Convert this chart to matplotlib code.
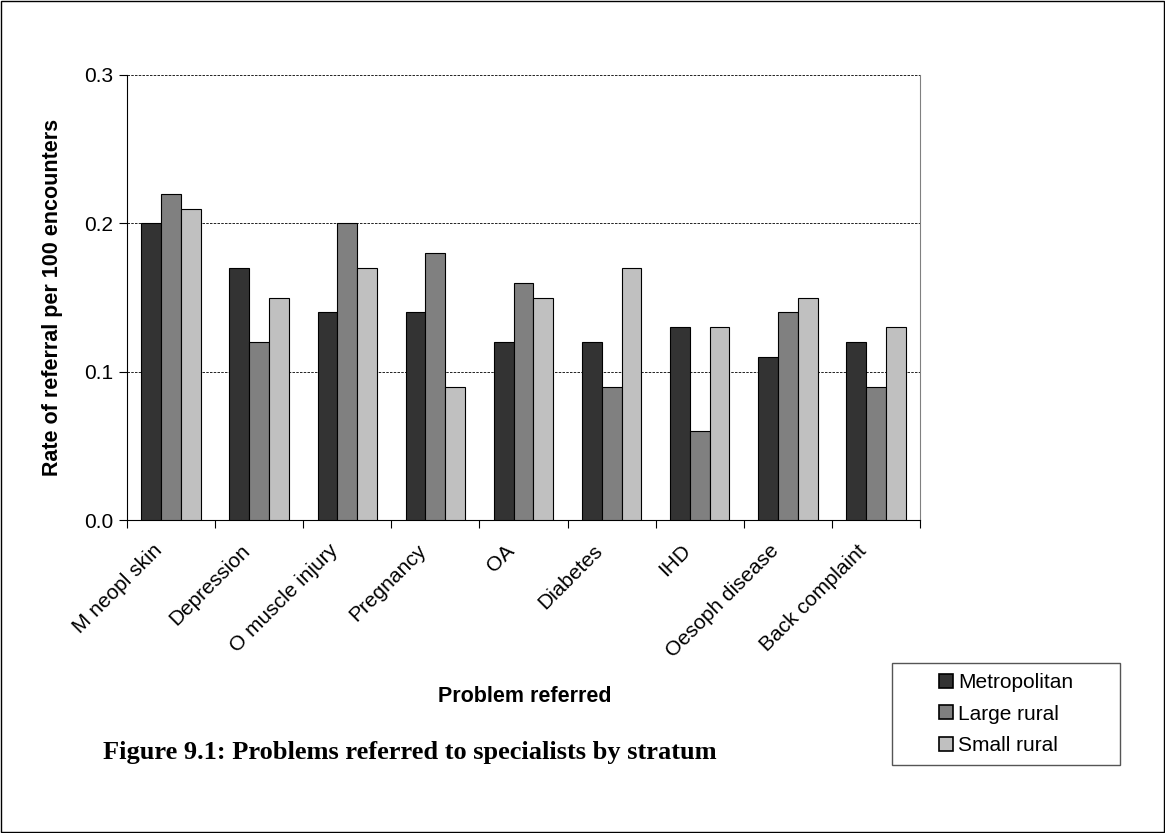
import matplotlib
matplotlib.use("Agg")
import matplotlib.pyplot as plt
import matplotlib.transforms as mtransforms
import numpy as np
from matplotlib.patches import Rectangle, Patch

categories = ["M neopl skin", "Depression", "O muscle injury", "Pregnancy", "OA",
              "Diabetes", "IHD", "Oesoph disease", "Back complaint"]
series_names = ["Metropolitan", "Large rural", "Small rural"]
metropolitan = [0.20, 0.17, 0.14, 0.14, 0.12, 0.12, 0.13, 0.11, 0.12]
large_rural = [0.22, 0.12, 0.20, 0.18, 0.16, 0.09, 0.06, 0.14, 0.09]
small_rural = [0.21, 0.15, 0.17, 0.09, 0.15, 0.17, 0.13, 0.15, 0.13]
yticks = [0.0, 0.1, 0.2, 0.3]
colors = ["#333333", "#808080", "#c0c0c0"]

plt.rcParams['font.family'] = ['Liberation Sans', 'DejaVu Sans']

fig = plt.figure(figsize=(11.65, 8.33), dpi=100)
ax = fig.add_axes([127/1165, 1-520/833, (920-127)/1165, (520-75)/833])

x = np.arange(len(categories))
w = 0.225
for i, (vals, c, name) in enumerate(zip([metropolitan, large_rural, small_rural], colors, series_names)):
    ax.bar(x + (i-1)*w, vals, width=w, color=c, edgecolor='black', linewidth=0.8, zorder=3, label=name)

ax.set_xlim(-0.5, len(categories)-0.5)
ax.set_ylim(0, 0.3)
ax.set_yticks(yticks)
ax.set_yticklabels([f"{v:.1f}" for v in yticks], fontsize=15)
for v in yticks[1:]:
    ax.axhline(v, color='black', linestyle=(0, (3, 1.5)), linewidth=0.6, zorder=1)

ax.set_xticks(np.arange(-0.5, len(categories), 1.0))
ax.set_xticklabels([])
ax.set_xticks(x, minor=True)
labels = ax.set_xticklabels(categories, minor=True, rotation=45, ha='right', va='center',
                            rotation_mode='anchor', fontsize=15)
ax.tick_params(axis='x', which='minor', length=0, pad=20)
ax.tick_params(axis='x', which='major', length=6, direction='out', width=0.8)
ax.tick_params(axis='y', length=6, direction='out', width=0.8, pad=4)
offset = mtransforms.ScaledTranslation(-12/100, 0, fig.dpi_scale_trans)
for lab in ax.xaxis.get_minorticklabels():
    lab.set_transform(lab.get_transform() + offset)

ax.spines['top'].set_visible(False)
ax.spines['right'].set_color('#808080')
ax.spines['right'].set_linewidth(0.8)
ax.spines['left'].set_linewidth(0.8)
ax.spines['bottom'].set_linewidth(0.8)

ax.set_ylabel("Rate of referral per 100 encounters", fontsize=15.5, fontweight='bold', labelpad=15)

fig.text(525/1165, 1-697/833, "Problem referred", fontsize=15.5, fontweight='bold',
         ha='center', va='center')
fig.text(103/1165, 1-752/833, "Figure 9.1: Problems referred to specialists by stratum",
         fontsize=19, fontweight='bold', family=['Liberation Serif', 'DejaVu Serif'],
         ha='left', va='center')

# legend frame
fig.patches.append(Rectangle((892/1165, 1-765/833), (1120-892)/1165, (765-663)/833,
                             transform=fig.transFigure, fill=False, edgecolor='#555555',
                             linewidth=1.0))
handles = [Patch(facecolor=c, edgecolor='black', linewidth=1.2) for c in colors]
fig.legend(handles, series_names, loc='center left',
           bbox_to_anchor=(939/1165, 1-714/833), frameon=False, fontsize=15,
           handlelength=0.65, handleheight=0.65, handletextpad=0.25, labelspacing=0.6,
           borderpad=0, borderaxespad=0)

# figure border
fig.patches.append(Rectangle((0.001, 0.001), 0.998, 0.998, transform=fig.transFigure,
                             fill=False, edgecolor='black', linewidth=1.0))

fig.savefig("out.png", dpi=100)
